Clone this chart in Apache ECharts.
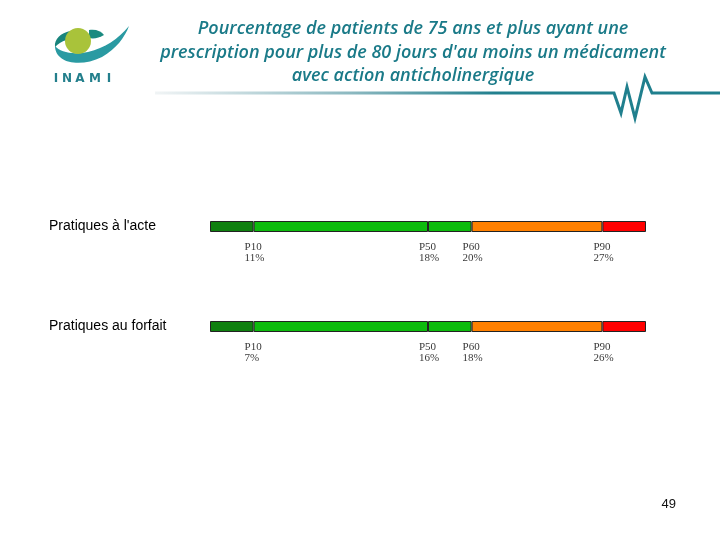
<!DOCTYPE html>
<html>
<head>
<meta charset="utf-8">
<script src="https://cdn.jsdelivr.net/npm/echarts@6/dist/echarts.min.js"></script>
<style>html,body{margin:0;padding:0;background:#fff;}#main{width:720px;height:540px;}</style>
</head>
<body>
<div id="main"></div>
<script>
// ---- data ----
const categories = ["Pratiques à l'acte", "Pratiques au forfait"];
const percentileNames = ['P10', 'P50', 'P60', 'P90'];
const percentileBounds = [0, 10, 50, 60, 90, 100]; // bar is drawn on a percentile scale
const valuesActe = [11, 18, 20, 27];
const valuesForfait = [7, 16, 18, 26];
const segmentColors = ['#108010', '#0dbb0d', '#0dbb0d', '#ff8000', '#ff0000'];
const titleLines = [
  'Pourcentage de patients de 75 ans et plus ayant une',
  "prescription pour plus de 80 jours d'au moins un médicament",
  'avec action anticholinergique'
];
const pageNumber = '49';

// ---- logo shapes ----
const logoPaths = {
  logoSwoosh: 'M 55 46 C 55 63 80 68 102 57 C 116 49 125 37 129 26 C 118 39 105 48 88 52 C 72 55 60 52 55 46 Z',
  logoLeft: 'M 55 47 C 54 39 61 33 70 31 L 67 40 C 62 41 58 44 55 47 Z',
  logoLeaf: 'M 89 30 C 96 29 101 31 104 35 C 99 38 94 39 89 38 Z'
};
Object.keys(logoPaths).forEach(k => {
  try { echarts.graphic.registerShape(k, echarts.graphic.extendPath(logoPaths[k], {})); } catch (e) {}
});

// ---- build ----
const chart = echarts.init(document.getElementById('main'), null, {renderer: 'canvas'});

const segSeries = [];
for (let i = 0; i < percentileBounds.length - 1; i++) {
  const w = percentileBounds[i + 1] - percentileBounds[i];
  segSeries.push({
    type: 'bar', stack: 'scale', barWidth: 11, silent: true,
    itemStyle: {color: segmentColors[i], borderColor: '#222', borderWidth: 1},
    data: categories.map(() => w)
  });
}
const allVals = [valuesActe, valuesForfait];
const labelData = [];
categories.forEach((c, ci) => {
  percentileNames.forEach((p, pi) => {
    labelData.push({value: [percentileBounds[pi + 1], c], name: p, pct: allVals[ci][pi]});
  });
});

const titleGraphics = titleLines.map((t, i) => ({
  type: 'text', x: 413, y: 29 + i * 23.5,
  style: {text: t, fill: '#1a7a88', font: 'italic 600 18px "Open Sans", Lato, sans-serif',
          textAlign: 'center', textVerticalAlign: 'middle'}
}));

const inami = [['I', 56], ['N', 67], ['A', 80], ['M', 95], ['I', 109]].map(l => ({
  type: 'text', x: l[1], y: 79,
  style: {text: l[0], fill: '#237f8c', font: 'bold 12px "DejaVu Sans", sans-serif', textAlign: 'center', textVerticalAlign: 'middle'}
}));

const logoGraphics = [
  {type: 'logoSwoosh', style: {fill: '#2a9aa2'}},
  {type: 'logoLeft', style: {fill: '#18847c'}},
  {type: 'logoLeaf', style: {fill: '#1a8a80'}},
  {type: 'circle', shape: {cx: 78, cy: 41, r: 13}, style: {fill: '#a9c33a'}}
];

chart.setOption({
  animation: false,
  grid: {left: 210, width: 436, top: 176.5, height: 200},
  xAxis: {type: 'value', min: 0, max: 100, show: false},
  yAxis: {
    type: 'category', data: categories, inverse: true,
    axisLine: {show: false}, axisTick: {show: false}, splitLine: {show: false},
    axisLabel: {margin: 161, align: 'left', color: '#000', fontSize: 14, fontFamily: 'Liberation Sans, Arial, sans-serif'}
  },
  series: segSeries.concat([{
    type: 'scatter', symbolSize: 0, silent: true, data: labelData,
    label: {
      show: true, position: [-9, 15], align: 'left', verticalAlign: 'top',
      formatter: p => p.data.name + '\n' + p.data.pct + '%',
      fontFamily: '"Liberation Serif", "Times New Roman", serif', fontSize: 11, lineHeight: 11, color: '#000'
    }
  }]),
  graphic: [
    {type: 'polyline', shape: {points: [[155, 93], [614, 93], [621, 113], [627, 87], [635, 118], [645, 77], [652, 93], [720, 93]]},
     style: {lineWidth: 3, fill: null, lineJoin: 'miter',
       stroke: new echarts.graphic.LinearGradient(0, 0, 1, 0, [
         {offset: 0, color: '#f2f5f6'}, {offset: 0.35, color: '#8bb8c0'}, {offset: 0.6, color: '#22808e'}, {offset: 1, color: '#1f7f8d'}])}},
    {type: 'text', x: 676, y: 504, style: {text: pageNumber, fill: '#111', font: '13px "Liberation Sans", Arial, sans-serif', textAlign: 'right', textVerticalAlign: 'middle'}}
  ].concat(logoGraphics, titleGraphics, inami)
});
</script>
</body>
</html>
